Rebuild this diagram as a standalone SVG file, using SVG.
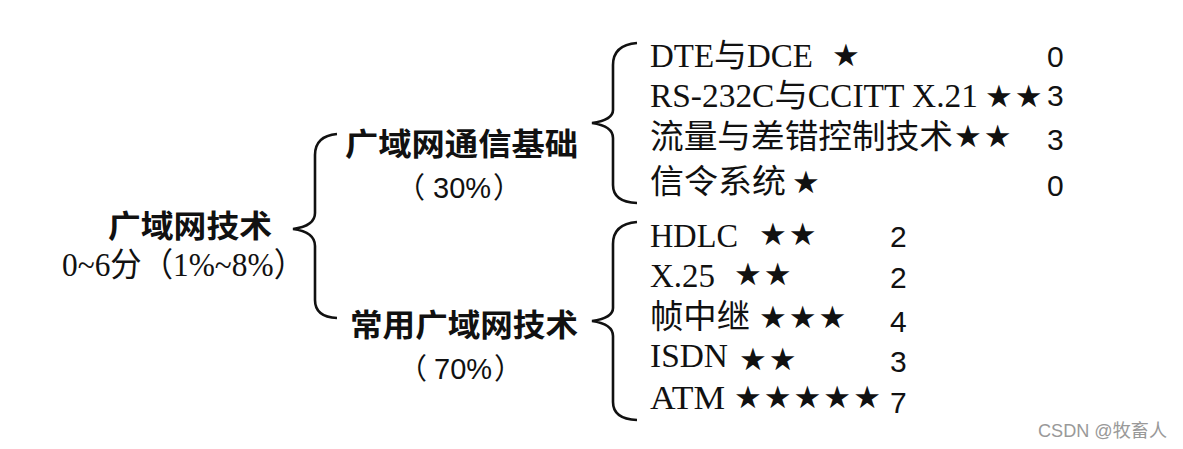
<svg xmlns="http://www.w3.org/2000/svg" width="1183" height="449" viewBox="0 0 1183 449">
<style>
.h{font-family:"Noto Sans CJK SC","Liberation Sans",sans-serif;font-weight:bold;font-size:31px;fill:#111}
.s{font-family:"Liberation Serif","Noto Sans CJK SC",serif;font-size:33px;fill:#111}
.p{font-family:"Liberation Sans","Noto Sans CJK SC",sans-serif;font-size:29px;fill:#111}
.n{font-family:"Liberation Sans",sans-serif;font-size:30px;fill:#111}
.st{font-family:"DejaVu Sans",sans-serif;font-size:31px;letter-spacing:2px;fill:#111}
.b{fill:none;stroke:#111;stroke-width:2.6}
.w{font-family:"Liberation Sans","Noto Sans CJK SC",sans-serif;font-size:18px;fill:#999}
</style>
<rect width="1183" height="449" fill="#fff"/>
<g id="connectors">
<path class="b" d="M337,134 Q315,136 315,155 L315,213 Q315,226 293,229 Q315,232 315,246 L315,300 Q315,317 337,318"/>
<path class="b" d="M637,43 Q613,45 613,65 L613,110 Q613,120 592,123 Q613,126 613,138 L613,185 Q613,202 637,203"/>
<path class="b" d="M637,222 Q613,224 613,244 L613,308 Q613,318 592,321 Q613,324 613,336 L613,402 Q613,419 637,420"/>
</g>
<g id="root">
<text class="h" x="108" y="237" textLength="164" lengthAdjust="spacingAndGlyphs">广域网技术</text>
<text class="s" x="62" y="276" font-size="27" textLength="243" lengthAdjust="spacingAndGlyphs">0~6分（1%~8%）</text>
</g>
<g id="basis">
<text class="h" x="345" y="155" textLength="233" lengthAdjust="spacingAndGlyphs">广域网通信基础</text>
<text class="p" y="198"><tspan x="396">（</tspan><tspan x="433">30%</tspan><tspan x="493">）</tspan></text>
</g>
<g id="common">
<text class="h" x="350" y="336" textLength="228" lengthAdjust="spacingAndGlyphs">常用广域网技术</text>
<text class="p" y="379"><tspan x="398">（</tspan><tspan x="434">70%</tspan><tspan x="494">）</tspan></text>
</g>
<g id="item-dte">
<text class="s" x="650" y="67" textLength="163" lengthAdjust="spacingAndGlyphs">DTE与DCE</text>
<text class="st" x="832" y="66">★</text>
<text class="n" x="1047" y="67">0</text>
</g>
<g id="item-rs232">
<text class="s" x="650" y="107" textLength="328" lengthAdjust="spacingAndGlyphs">RS-232C与CCITT X.21</text>
<text class="st" x="985" y="107" letter-spacing="3">★★</text>
<text class="n" x="1047" y="106">3</text>
</g>
<g id="item-flow">
<text class="s" x="650" y="148" textLength="303" lengthAdjust="spacingAndGlyphs">流量与差错控制技术</text>
<text class="st" x="954" y="147">★★</text>
<text class="n" x="1047" y="150">3</text>
</g>
<g id="item-signal">
<text class="s" x="650" y="193" textLength="136" lengthAdjust="spacingAndGlyphs">信令系统</text>
<text class="st" x="792" y="193">★</text>
<text class="n" x="1047" y="196">0</text>
</g>
<g id="item-hdlc">
<text class="s" x="650" y="247" textLength="88" lengthAdjust="spacingAndGlyphs">HDLC</text>
<text class="st" x="759" y="245">★★</text>
<text class="n" x="890" y="247">2</text>
</g>
<g id="item-x25">
<text class="s" x="650" y="287" textLength="65" lengthAdjust="spacingAndGlyphs">X.25</text>
<text class="st" x="734" y="285">★★</text>
<text class="n" x="890" y="288">2</text>
</g>
<g id="item-fr">
<text class="s" x="650" y="328" textLength="100" lengthAdjust="spacingAndGlyphs">帧中继</text>
<text class="st" x="759" y="328">★★★</text>
<text class="n" x="890" y="332">4</text>
</g>
<g id="item-isdn">
<text class="s" x="650" y="367" textLength="78" lengthAdjust="spacingAndGlyphs">ISDN</text>
<text class="st" x="739" y="370">★★</text>
<text class="n" x="890" y="372">3</text>
</g>
<g id="item-atm">
<text class="s" x="650" y="409" textLength="75" lengthAdjust="spacingAndGlyphs">ATM</text>
<text class="st" x="734" y="408" letter-spacing="2.7">★★★★★</text>
<text class="n" x="890" y="413">7</text>
</g>
<text class="w" x="1038" y="437" textLength="129" lengthAdjust="spacingAndGlyphs">CSDN @牧畜人</text>
</svg>
